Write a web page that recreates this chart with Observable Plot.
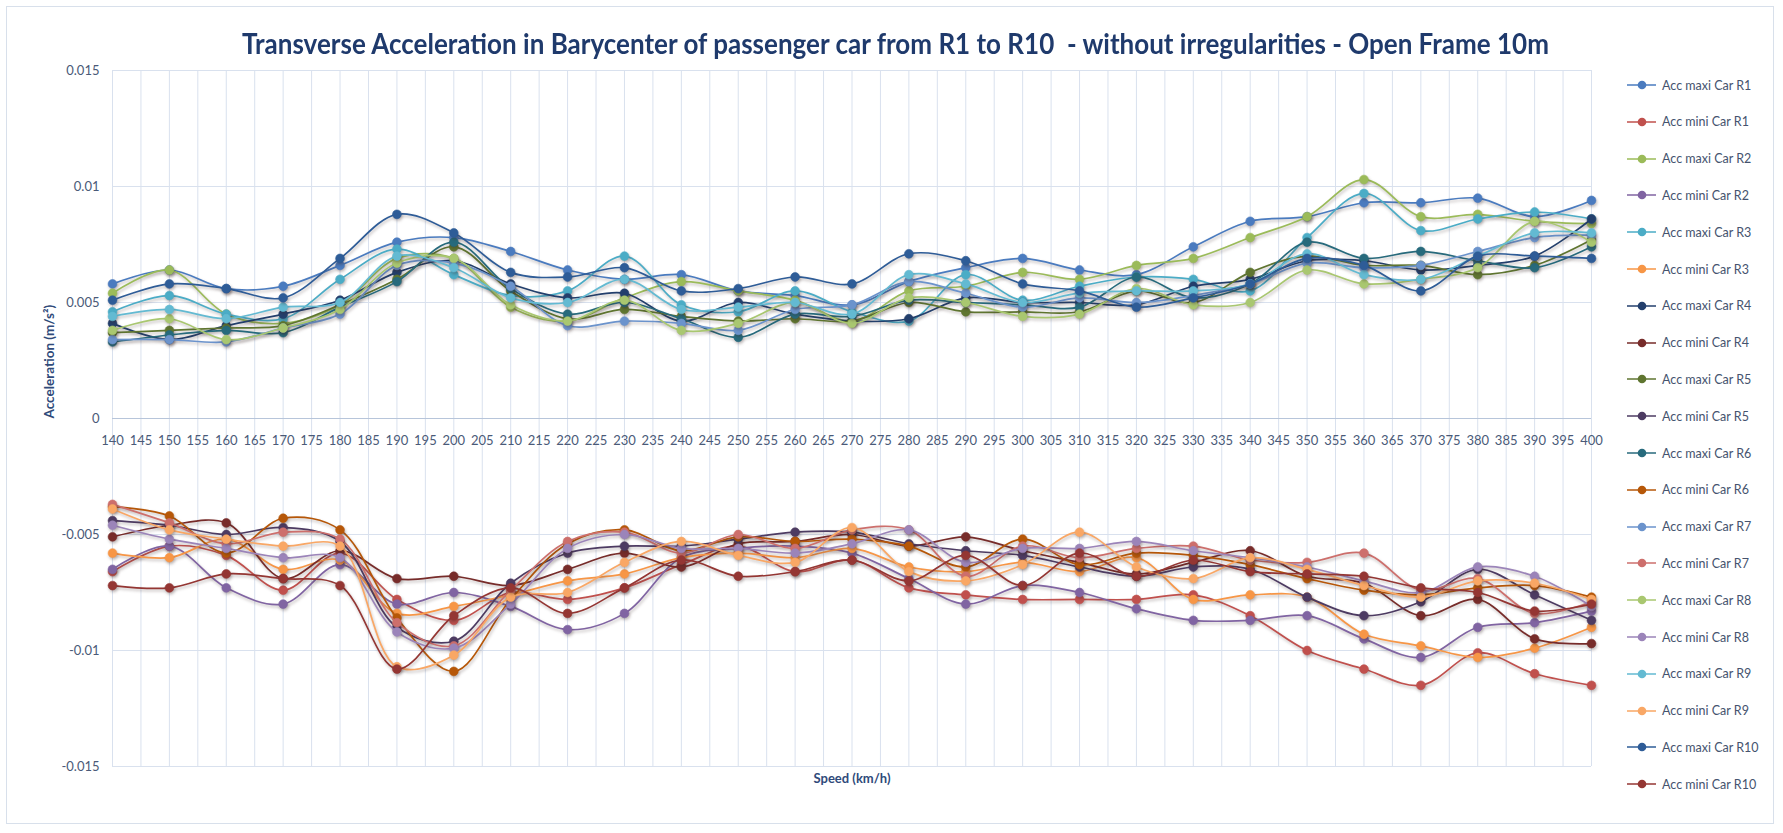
<!DOCTYPE html>
<html>
<head>
<meta charset="utf-8">
<script src="https://cdn.jsdelivr.net/npm/d3@7"></script>
<script src="https://cdn.jsdelivr.net/npm/@observablehq/plot@0.6"></script>
<style>
  html, body { margin: 0; padding: 0; background: #ffffff; }
  body { width: 1783px; height: 833px; position: relative; overflow: hidden; font-family: Lato, "Open Sans", "DejaVu Sans", sans-serif; }
  #frame { position: absolute; left: 6px; top: 6px; width: 1768px; height: 818px; border: 1px solid #d8e0eb; box-sizing: border-box; }
  #chart { position: absolute; left: 0; top: 0; }
  #title { position: absolute; top: 26px; left: 0; white-space: nowrap; font-family: Lato, "Open Sans", sans-serif; font-weight: 700; font-size: 28px; line-height: 34px; color: #1f3a6c; transform-origin: 0 50%; }
  #legend { position: absolute; left: 1626px; top: 0; }
  .entry { position: absolute; left: 0; height: 16px; display: flex; align-items: center; white-space: nowrap; font-size: 12.5px; color: #45536e; }
  .entry svg { margin-right: 5px; }
</style>
</head>
<body>
<div id="frame"></div>
<div id="chart"></div>
<div id="title">Transverse Acceleration in Barycenter of passenger car from R1 to R10&nbsp; - without irregularities - Open Frame 10m</div>
<div id="legend"></div>
<script>
// Speed samples (km/h)
const speeds = [140,150,160,170,180,190,200,210,220,230,240,250,260,270,280,290,300,310,320,330,340,350,360,370,380,390,400];

// Maximum transverse acceleration per car (m/s²)
const maxiR1  = [0.0058,0.0064,0.0056,0.0057,0.0066,0.0076,0.0078,0.0072,0.0064,0.0060,0.0062,0.0055,0.0053,0.0049,0.0059,0.0065,0.0069,0.0064,0.0062,0.0074,0.0085,0.0087,0.0093,0.0093,0.0095,0.0087,0.0094];
const maxiR2  = [0.0054,0.0064,0.0045,0.0041,0.0049,0.0069,0.0069,0.0048,0.0042,0.0052,0.0059,0.0055,0.0051,0.0042,0.0055,0.0057,0.0063,0.0060,0.0066,0.0069,0.0078,0.0087,0.0103,0.0087,0.0088,0.0085,0.0084];
const maxiR3  = [0.0046,0.0053,0.0045,0.0043,0.0060,0.0073,0.0062,0.0053,0.0055,0.0070,0.0049,0.0046,0.0055,0.0046,0.0042,0.0062,0.0051,0.0057,0.0061,0.0060,0.0055,0.0078,0.0097,0.0081,0.0086,0.0089,0.0086];
const maxiR4  = [0.0041,0.0034,0.0040,0.0045,0.0051,0.0063,0.0068,0.0058,0.0052,0.0054,0.0042,0.0050,0.0045,0.0042,0.0043,0.0052,0.0050,0.0050,0.0049,0.0057,0.0060,0.0068,0.0068,0.0064,0.0066,0.0070,0.0086];
const maxiR5  = [0.0037,0.0038,0.0039,0.0040,0.0049,0.0060,0.0074,0.0055,0.0043,0.0047,0.0044,0.0042,0.0043,0.0042,0.0050,0.0046,0.0046,0.0046,0.0055,0.0050,0.0063,0.0070,0.0066,0.0066,0.0062,0.0066,0.0077];
const maxiR6  = [0.0033,0.0036,0.0038,0.0037,0.0048,0.0059,0.0076,0.0056,0.0045,0.0050,0.0043,0.0035,0.0045,0.0044,0.0051,0.0050,0.0049,0.0048,0.0061,0.0052,0.0058,0.0076,0.0069,0.0072,0.0068,0.0065,0.0074];
const maxiR7  = [0.0034,0.0034,0.0033,0.0039,0.0045,0.0066,0.0067,0.0057,0.0040,0.0042,0.0041,0.0038,0.0047,0.0049,0.0059,0.0054,0.0048,0.0052,0.0050,0.0053,0.0058,0.0067,0.0065,0.0066,0.0072,0.0078,0.0079];
const maxiR8  = [0.0038,0.0043,0.0034,0.0039,0.0047,0.0067,0.0069,0.0049,0.0042,0.0051,0.0038,0.0041,0.0050,0.0041,0.0052,0.0050,0.0044,0.0045,0.0056,0.0049,0.0050,0.0064,0.0058,0.0060,0.0065,0.0085,0.0076];
const maxiR9  = [0.0044,0.0047,0.0043,0.0048,0.0050,0.0070,0.0065,0.0052,0.0050,0.0060,0.0047,0.0048,0.0050,0.0045,0.0062,0.0058,0.0050,0.0054,0.0055,0.0055,0.0058,0.0071,0.0062,0.0060,0.0070,0.0080,0.0080];
const maxiR10 = [0.0051,0.0058,0.0056,0.0052,0.0069,0.0088,0.0080,0.0063,0.0061,0.0065,0.0055,0.0056,0.0061,0.0058,0.0071,0.0068,0.0058,0.0055,0.0048,0.0052,0.0058,0.0069,0.0066,0.0055,0.0070,0.0070,0.0069];

// Minimum transverse acceleration per car (m/s²)
const miniR1  = [-0.0066,-0.0055,-0.0059,-0.0074,-0.0058,-0.0078,-0.0087,-0.0075,-0.0078,-0.0073,-0.0063,-0.0055,-0.0066,-0.0061,-0.0073,-0.0076,-0.0078,-0.0078,-0.0078,-0.0076,-0.0085,-0.0100,-0.0108,-0.0115,-0.0101,-0.0110,-0.0115];
const miniR2  = [-0.0065,-0.0055,-0.0073,-0.0080,-0.0063,-0.0080,-0.0075,-0.0081,-0.0091,-0.0084,-0.0060,-0.0056,-0.0055,-0.0058,-0.0069,-0.0080,-0.0072,-0.0075,-0.0082,-0.0087,-0.0087,-0.0085,-0.0095,-0.0103,-0.0090,-0.0088,-0.0083];
const miniR3  = [-0.0058,-0.0060,-0.0052,-0.0065,-0.0061,-0.0084,-0.0081,-0.0076,-0.0070,-0.0067,-0.0060,-0.0058,-0.0060,-0.0056,-0.0064,-0.0066,-0.0062,-0.0066,-0.0060,-0.0078,-0.0076,-0.0077,-0.0093,-0.0098,-0.0103,-0.0099,-0.0090];
const miniR4  = [-0.0051,-0.0046,-0.0045,-0.0069,-0.0057,-0.0069,-0.0068,-0.0072,-0.0065,-0.0058,-0.0064,-0.0054,-0.0053,-0.0050,-0.0055,-0.0051,-0.0057,-0.0062,-0.0067,-0.0062,-0.0057,-0.0068,-0.0071,-0.0085,-0.0078,-0.0095,-0.0097];
const miniR5  = [-0.0044,-0.0046,-0.0050,-0.0047,-0.0053,-0.0090,-0.0096,-0.0071,-0.0058,-0.0055,-0.0055,-0.0052,-0.0049,-0.0049,-0.0054,-0.0057,-0.0059,-0.0064,-0.0068,-0.0064,-0.0065,-0.0077,-0.0085,-0.0079,-0.0065,-0.0076,-0.0087];
const miniR6  = [-0.0038,-0.0042,-0.0058,-0.0043,-0.0048,-0.0086,-0.0109,-0.0078,-0.0054,-0.0048,-0.0057,-0.0051,-0.0053,-0.0052,-0.0055,-0.0064,-0.0052,-0.0063,-0.0058,-0.0059,-0.0063,-0.0069,-0.0074,-0.0076,-0.0073,-0.0072,-0.0077];
const miniR7  = [-0.0037,-0.0045,-0.0054,-0.0049,-0.0052,-0.0088,-0.0098,-0.0074,-0.0053,-0.0049,-0.0058,-0.0050,-0.0056,-0.0048,-0.0048,-0.0068,-0.0055,-0.0060,-0.0056,-0.0055,-0.0061,-0.0062,-0.0058,-0.0074,-0.0069,-0.0084,-0.0079];
const miniR8  = [-0.0046,-0.0052,-0.0056,-0.0060,-0.0060,-0.0092,-0.0099,-0.0080,-0.0056,-0.0050,-0.0056,-0.0056,-0.0058,-0.0054,-0.0048,-0.0062,-0.0056,-0.0056,-0.0053,-0.0057,-0.0060,-0.0064,-0.0070,-0.0075,-0.0064,-0.0068,-0.0081];
const miniR9  = [-0.0039,-0.0048,-0.0052,-0.0055,-0.0055,-0.0107,-0.0102,-0.0077,-0.0075,-0.0062,-0.0053,-0.0059,-0.0062,-0.0047,-0.0066,-0.0070,-0.0063,-0.0049,-0.0064,-0.0069,-0.0060,-0.0065,-0.0072,-0.0077,-0.0070,-0.0071,-0.0078];
const miniR10 = [-0.0072,-0.0073,-0.0067,-0.0069,-0.0072,-0.0108,-0.0085,-0.0073,-0.0084,-0.0073,-0.0061,-0.0068,-0.0066,-0.0061,-0.0070,-0.0059,-0.0072,-0.0058,-0.0068,-0.0061,-0.0066,-0.0067,-0.0068,-0.0073,-0.0075,-0.0083,-0.0080];

// Series names and colours, in drawing / legend order
const seriesNames = [
  "Acc maxi Car R1","Acc mini Car R1","Acc maxi Car R2","Acc mini Car R2","Acc maxi Car R3",
  "Acc mini Car R3","Acc maxi Car R4","Acc mini Car R4","Acc maxi Car R5","Acc mini Car R5",
  "Acc maxi Car R6","Acc mini Car R6","Acc maxi Car R7","Acc mini Car R7","Acc maxi Car R8",
  "Acc mini Car R8","Acc maxi Car R9","Acc mini Car R9","Acc maxi Car R10","Acc mini Car R10"
];
const seriesColors = [
  "#4a7bbf","#c0504d","#9bbb59","#8064a2","#4bacc6",
  "#f79646","#233f6c","#772c2a","#5f7530","#4d3b62",
  "#276a7c","#b65708","#6b93cc","#cd6f6c","#a9c770",
  "#9b84b9","#63bad2","#f9a765","#2e5c97","#943633"
];
const seriesValues = [
  maxiR1, miniR1, maxiR2, miniR2, maxiR3, miniR3, maxiR4, miniR4, maxiR5, miniR5,
  maxiR6, miniR6, maxiR7, miniR7, maxiR8, miniR8, maxiR9, miniR9, maxiR10, miniR10
];

// Axis ticks
const xTicks = d3.range(140, 401, 5);
const yTicks = [-0.015, -0.01, -0.005, 0, 0.005, 0.01, 0.015];

const series = seriesNames.map((name, k) => ({
  name,
  color: seriesColors[k],
  rows: speeds.map((s, i) => ({speed: s, acc: seriesValues[k][i]}))
}));

const textColor = "#4a5a78";
const gridColor = "#d9e1ee";

const chart = Plot.plot({
  width: 1783,
  height: 833,
  marginLeft: 112,
  marginRight: 192,
  marginTop: 70,
  marginBottom: 67,
  style: {fontFamily: "Lato, 'Open Sans', sans-serif", fontSize: "13px", color: textColor, background: "transparent"},
  x: {domain: [140, 400], axis: null},
  y: {domain: [-0.015, 0.015], axis: null},
  marks: [
    Plot.gridX(xTicks, {stroke: gridColor, strokeOpacity: 1}),
    Plot.gridY(yTicks, {stroke: gridColor, strokeOpacity: 1}),
    Plot.ruleY([0], {stroke: "#b7c5da", strokeWidth: 1.2}),
    Plot.axisY(yTicks, {tickSize: 0, tickPadding: 13, fontSize: 13, label: null,
      tickFormat: d => String(+d.toFixed(3))}),
    Plot.text(xTicks, {x: d => d, y: 0, dy: 22, text: d => String(d), fontSize: 13, fill: textColor}),
    Plot.text(["Acceleration (m/s²)"], {frameAnchor: "left", dx: -63, rotate: -90, fontSize: 13.5, fontWeight: "bold", fill: "#2f4a7a"}),
    Plot.text(["Speed (km/h)"], {frameAnchor: "bottom", dy: 16, fontSize: 13, fontWeight: "bold", fill: "#2f4a7a"}),
    ...series.flatMap(s => [
      Plot.line(s.rows, {x: "speed", y: "acc", stroke: s.color, strokeWidth: 1.7, curve: "catmull-rom"}),
      Plot.dot(s.rows, {x: "speed", y: "acc", r: 4.4, fill: s.color, stroke: s.color, strokeWidth: 0.6})
    ])
  ]
});
document.getElementById("chart").appendChild(chart);

// soft drop shadow on the series, as in the original styling
chart.querySelectorAll('g[aria-label="line"], g[aria-label="dot"]').forEach(g => {
  g.style.filter = "drop-shadow(1px 2px 1.5px rgba(60,40,40,0.32))";
});

// Title: condensed to the chart's width span
const title = document.getElementById("title");
const tw = title.getBoundingClientRect().width;
const targetW = 1307;
title.style.left = "242px";
title.style.transform = `scaleX(${targetW / tw})`;

// Legend
const legend = document.getElementById("legend");
series.forEach((s, i) => {
  const e = document.createElement("div");
  e.className = "entry";
  e.style.top = (85 + i * 36.8 - 8) + "px";
  e.innerHTML = `<svg width="31" height="16"><line x1="1" y1="8" x2="30" y2="8" stroke="${s.color}" stroke-width="1.5"/><circle cx="16" cy="8" r="4.3" fill="${s.color}"/></svg><span>${s.name}</span>`;
  legend.appendChild(e);
});
</script>
</body>
</html>
